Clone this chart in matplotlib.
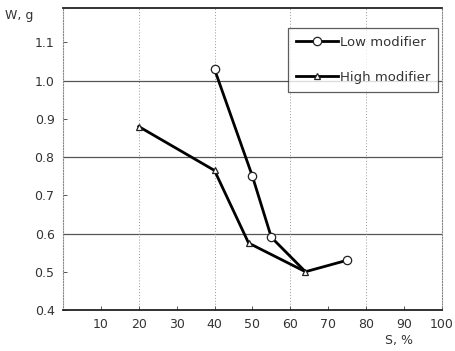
import numpy as np
import matplotlib
matplotlib.use('Agg')
import matplotlib.pyplot as plt

# data
s_low = [40, 50, 55, 64, 75]
w_low = [1.03, 0.75, 0.59, 0.50, 0.53]
s_high = [20, 40, 49, 64]
w_high = [0.88, 0.765, 0.575, 0.50]

x_ticks = [10, 20, 30, 40, 50, 60, 70, 80, 90, 100]
y_ticks = [0.4, 0.5, 0.6, 0.7, 0.8, 0.9, 1.0, 1.1]

fig = plt.figure(figsize=(4.56, 3.51), dpi=100)
ax = fig.add_axes([0.138, 0.117, 0.831, 0.86])

# grid (scanned look)
for yv in [0.6, 0.8, 1.0]:
    ax.axhline(yv, color='#555555', lw=0.9, zorder=1)
for xv in [20, 40, 60, 80]:
    ax.axvline(xv, color='#999999', lw=0.7, ls=(0, (1, 2)), zorder=1)

# circle at 64 is hidden under the triangle in the original
ax.plot(s_low, w_low, color='black', lw=2, marker='o', ms=6,
        mfc='white', mec='#222222', mew=0.9, markevery=[0, 1, 2, 4],
        label='Low modifier', zorder=3)
ax.plot(s_high, w_high, color='black', lw=2, marker='^', ms=5,
        mfc='white', mec='#222222', mew=0.9, label='High modifier', zorder=4)

ax.set_xlim(0, 100)
ax.set_ylim(0.4, 1.19)
ax.set_xticks(x_ticks)
ax.set_yticks(y_ticks)
ax.set_xticklabels([str(v) for v in x_ticks])
ax.set_yticklabels(['%.1f' % v for v in y_ticks])
ax.tick_params(direction='in', length=3, width=0.7, colors='#555555',
               labelsize=9, labelcolor='#333333', pad=6)

for side in ['left', 'right']:
    ax.spines[side].set_color('#888888')
    ax.spines[side].set_linestyle((0, (1, 1.5)))
    ax.spines[side].set_linewidth(0.8)
for side in ['top', 'bottom']:
    ax.spines[side].set_color('#222222')
    ax.spines[side].set_linewidth(1.3)

fig.text(0.012, 0.945, 'W, g', fontsize=9, color='#333333')
fig.text(0.845, 0.02, 'S, %', fontsize=9, color='#333333')

leg = ax.legend(loc='upper right', bbox_to_anchor=(0.99, 0.935), fontsize=9.5,
                frameon=True, fancybox=False, handlelength=3.2,
                handletextpad=0.1, labelspacing=1.7, borderpad=0.6,
                borderaxespad=0)
leg.get_frame().set_edgecolor('#333333')
leg.get_frame().set_linewidth(0.9)
for t in leg.get_texts():
    t.set_color('#333333')

fig.savefig('out.png', dpi=100)
